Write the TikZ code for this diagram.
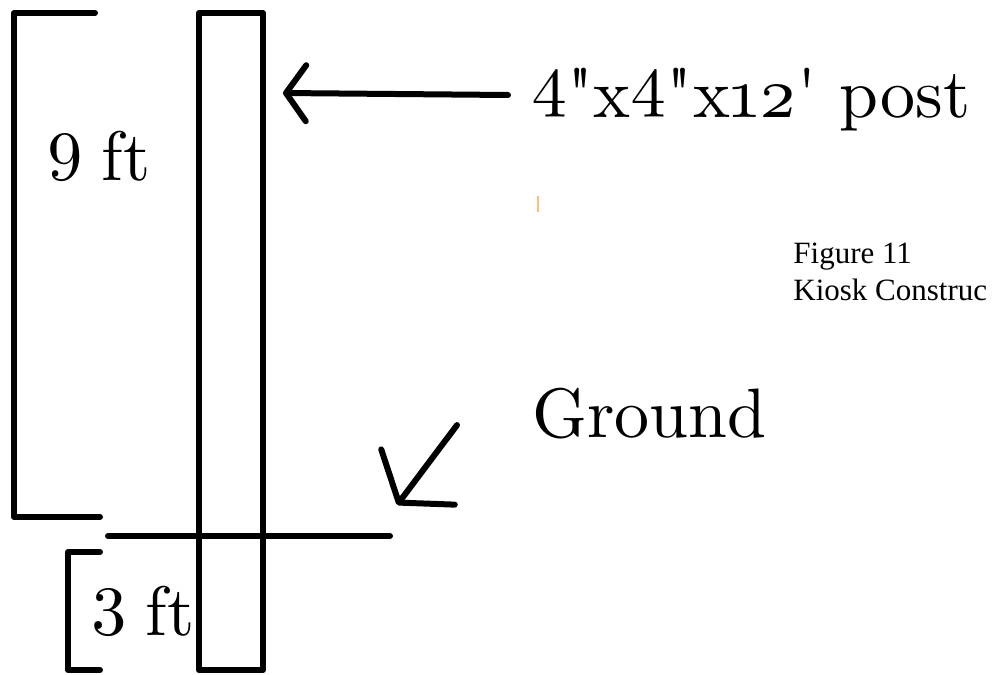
\documentclass[tikz,border=0pt]{standalone}
\usepackage{fontspec}
\usepackage{tikz}
\usetikzlibrary{arrows.meta,positioning,calc}
\newfontfamily\lmten{lmroman10-regular.otf}[Numbers=OldStyle]
\newfontfamily\capfont{Liberation Serif}
\newcommand{\osd}[1]{\raisebox{0.2em}{#1}}
\newcommand{\dq}{\XeTeXglyph\XeTeXcharglyph"22\relax}
\newcommand{\sq}{\XeTeXglyph\XeTeXcharglyph"27\relax}

\begin{document}
\begin{tikzpicture}[
    x=0.5pt, y=-0.5pt,
    ink/.style={line width=3pt, line cap=round, line join=round},
    postbox/.style={draw, ink, minimum width=32pt, minimum height=328.5pt, inner sep=0pt},
    lbl/.style={inner sep=0pt, anchor=base west, font=\lmten\fontsize{35}{40}\selectfont},
    caption/.style={inner sep=0pt, anchor=base west, font=\capfont\fontsize{15.5}{18}\selectfont},
    pointer/.style={ink, -{Straight Barb[length=10pt, width=28pt, round]}},
    bigpointer/.style={ink, -{Straight Barb[length=16pt, width=46pt, round]}},
]
\useasboundingbox (0,0) rectangle (993,675);

% the post
\node[postbox] (post) at (231,341.5) {};

% labels
\node[lbl] (nine) at (45,180) {\osd{9}\hspace{0.24em}ft};
\node[lbl] (three) at (89,635) {\osd{3}\hspace{0.24em}ft};
\node[lbl] (postlabel) at (531,117) {\osd{4}\dq x\osd{4}\dq x12\sq\ post};
\node[lbl] (ground) at (532,437) {Ground};
\node[caption] (figno) at (793,263) {Figure 11};
\node[caption] (kiosk) at (793,300) {Kiosk Construc};

% brackets and ground line
\draw[ink] (95,13) -| (14,517) -- (100,517);
\draw[ink] (100,552) -| (68,670) -- (100,670);
\draw[ink] (108,536) -- (390,536);
\draw[orange!50, line width=1pt] (538,196) -- (538,212);

% pointers
\coordinate (posthead) at (283,93);
\coordinate (groundhead) at (397,505);
\draw[pointer] ($(postlabel.west |- posthead)+(-23,2)$) -- (posthead);
\draw[bigpointer] ($(ground.west)+(-75,12)$) -- (groundhead);
\end{tikzpicture}
\end{document}
